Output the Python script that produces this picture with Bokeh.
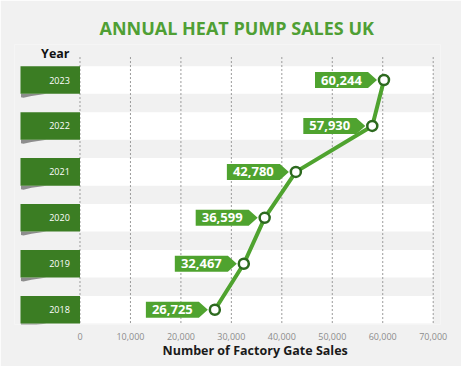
from bokeh.plotting import figure
from bokeh.models import Range1d, FixedTicker, NumeralTickFormatter, Title
from bokeh.core.properties import value
from bokeh.embed import file_html
from bokeh.resources import INLINE

# ---- data ----
years = ["2018", "2019", "2020", "2021", "2022", "2023"]
sales = [26725, 32467, 36599, 42780, 57930, 60244]
x_ticks = [0, 10000, 20000, 30000, 40000, 50000, 60000, 70000]
title_text = "ANNUAL HEAT PUMP SALES UK"
y_title = "Year"
x_title = "Number of Factory Gate Sales"

# ---- style ----
FONT = "Open Sans"
BG = "#f1f1f1"
GREEN = "#4fa32f"
DARK_GREEN = "#3b7d23"
RING = "#2d6a1f"

W, H = 461, 366
BL, BR, BT, BB = 14, 21, 44, 42
X0, X1 = -12981, 71447
Y0, Y1 = -0.322, 5.773
fw = W - BL - BR
fh = H - BT - BB
PX = (X1 - X0) / fw   # data units per pixel (x)
PY = (Y1 - Y0) / fh   # data units per pixel (y)

idx = list(range(len(years)))
xmax = x_ticks[-1]

p = figure(width=W, height=H, output_backend="svg", toolbar_location=None,
           x_range=Range1d(X0, X1), y_range=Range1d(Y0, Y1),
           y_axis_location=None,
           min_border_left=BL, min_border_right=BR,
           min_border_top=BT, min_border_bottom=BB)
p.background_fill_color = BG
p.border_fill_color = BG
p.outline_line_color = None
p.xgrid.visible = False
p.ygrid.visible = False

# title
p.title.text = title_text
p.title.align = "left"
p.title.offset = 85
p.title.standoff = 10
p.title.text_font = FONT
p.title.text_font_size = "18px"
p.title.text_font_style = "bold"
p.title.text_color = "#4f9f34"

# x axis
ax = p.xaxis[0]
ax.ticker = FixedTicker(ticks=x_ticks)
ax.formatter = NumeralTickFormatter(format="0,0")
ax.axis_line_color = None
ax.major_tick_line_color = None
ax.minor_tick_line_color = None
ax.major_tick_out = 0
ax.minor_tick_out = 0
ax.major_label_standoff = 8
ax.major_label_text_font = FONT
ax.major_label_text_font_size = "9px"
ax.major_label_text_color = "#8c8c8c"

# x-axis title (below the tick labels, centred under the value span)
p.add_layout(Title(text=x_title, align="left", offset=148, standoff=-5,
                   text_font=FONT, text_font_size="12.5px",
                   text_font_style="bold", text_color="#1a1a1a"), "below")

# row bands
band_h = 0.6
p.hbar(y=idx, left=0, right=xmax, height=band_h, fill_color="white", line_color=None)

# dashed vertical gridlines
p.segment(x0=x_ticks, y0=[len(years) - 0.5] * len(x_ticks),
          x1=x_ticks, y1=[-0.3] * len(x_ticks),
          line_color="#9a9a9a", line_width=1, line_dash="2 2")

# ribbons with shadow
rib_left = -59.5 * PX
sh_xs, sh_ys = [], []
for i in idx:
    yb = i - band_h / 2
    sh_xs.append([rib_left + 0.5 * PX, rib_left + 26 * PX, rib_left + 11 * PX,
                  rib_left + 3 * PX, rib_left + 0.5 * PX])
    sh_ys.append([yb, yb, yb - 2.2 * PY, yb - 4 * PY, yb - 3.5 * PY])
p.patches(xs=sh_xs, ys=sh_ys, fill_color="#3a3a3a", fill_alpha=0.55, line_color=None)
p.hbar(y=idx, left=rib_left, right=0, height=band_h, fill_color=DARK_GREEN, line_color=None)
p.text(x=[-10.2 * PX] * len(years), y=idx, text=years,
       text_align="right", text_baseline="middle",
       text_font=value(FONT), text_font_size="9px", text_color="white")

p.text(x=[-10.5 * PX], y=[len(years) - 1 + 26.5 * PY], text=[y_title],
       text_align="right", text_baseline="middle",
       text_font=value(FONT), text_font_size="12.5px", text_font_style="bold",
       text_color="#111111")

# line
p.line(x=sales, y=idx, line_color=GREEN, line_width=4)

# label boxes (arrow-shaped)
bx, by = [], []
for v, i in zip(sales, idx):
    bx.append([v - 69 * PX, v - 16 * PX, v - 7 * PX, v - 16 * PX, v - 69 * PX])
    by.append([i + 8 * PY, i + 8 * PY, i, i - 8 * PY, i - 8 * PY])
p.patches(xs=bx, ys=by, fill_color=GREEN, line_color=None)
p.text(x=[v - 42.5 * PX for v in sales], y=idx, text=[f"{v:,}" for v in sales],
       text_align="center", text_baseline="middle",
       text_font=value(FONT), text_font_size="13px", text_font_style="bold",
       text_color="white")

# markers
p.scatter(x=sales, y=idx, size=10, fill_color="white", line_color=RING, line_width=2.5)

html = file_html(p, INLINE)
html = html.replace("<body>", '<body style="background-color:%s;">' % BG, 1)
open("out.html", "w").write(html)
